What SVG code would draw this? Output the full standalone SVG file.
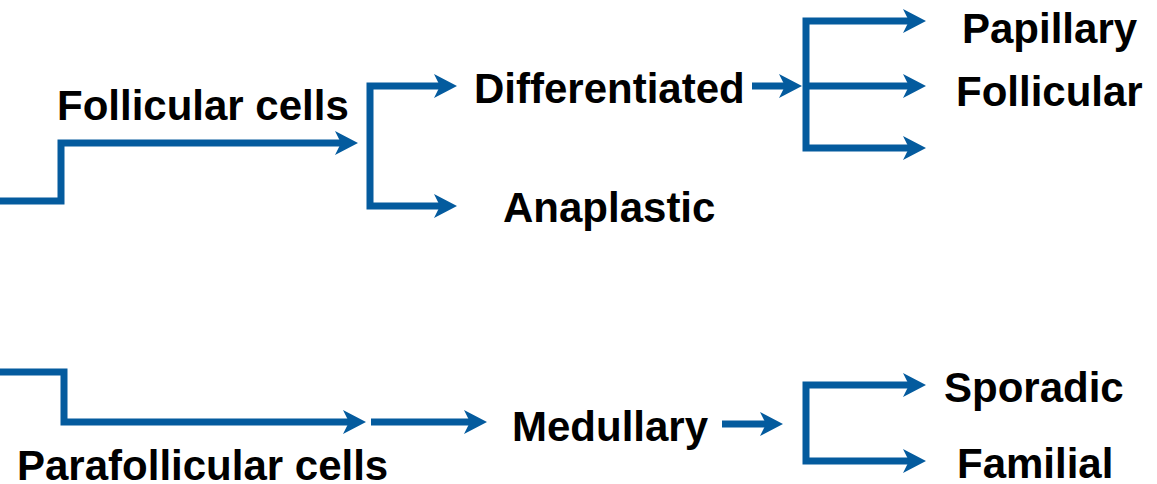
<svg xmlns="http://www.w3.org/2000/svg" width="1157" height="484" viewBox="0 0 1157 484">
  <style>
    .lbl { font-family: "Liberation Sans", Arial, sans-serif; font-weight: bold; font-size: 42px; fill: #000; }
    .con { fill: none; stroke: #045B9E; stroke-width: 7; stroke-linejoin: miter; stroke-linecap: butt; }
  </style>
  <defs>
    <marker id="ah" viewBox="0 0 24 26" markerWidth="24" markerHeight="26" refX="12" refY="13" markerUnits="userSpaceOnUse" orient="auto-start-reverse">
      <path d="M24,13 L1,1 L7,13 L1,25 Z" fill="#045B9E"/>
    </marker>
  </defs>
  <rect width="1157" height="484" fill="#fff"/>
  <g id="connectors">
    <path class="con" d="M0,201 H61 V143 H346" marker-end="url(#ah)"/>
    <path class="con" d="M445,86 H370 V206 H445" marker-start="url(#ah)" marker-end="url(#ah)"/>
    <path class="con" d="M752,86 H790" marker-end="url(#ah)"/>
    <path class="con" d="M914,21 H806 V148 H914" marker-start="url(#ah)" marker-end="url(#ah)"/>
    <path class="con" d="M806,86 H914" marker-end="url(#ah)"/>
    <path class="con" d="M0,372 H64 V422 H354" marker-end="url(#ah)"/>
    <path class="con" d="M371,422 H475" marker-end="url(#ah)"/>
    <path class="con" d="M722,424 H771" marker-end="url(#ah)"/>
    <path class="con" d="M914,385 H806 V461 H914" marker-start="url(#ah)" marker-end="url(#ah)"/>
  </g>
  <g id="follicular-cells"><text class="lbl" x="57" y="120">Follicular cells</text></g>
  <g id="differentiated"><text class="lbl" x="474" y="103">Differentiated</text></g>
  <g id="anaplastic"><text class="lbl" x="503" y="222">Anaplastic</text></g>
  <g id="papillary"><text class="lbl" x="962" y="43">Papillary</text></g>
  <g id="follicular"><text class="lbl" x="956" y="106">Follicular</text></g>
  <g id="parafollicular-cells"><text class="lbl" x="17" y="480">Parafollicular cells</text></g>
  <g id="medullary"><text class="lbl" x="512" y="441">Medullary</text></g>
  <g id="sporadic"><text class="lbl" x="944" y="402">Sporadic</text></g>
  <g id="familial"><text class="lbl" x="957" y="478">Familial</text></g>
</svg>
